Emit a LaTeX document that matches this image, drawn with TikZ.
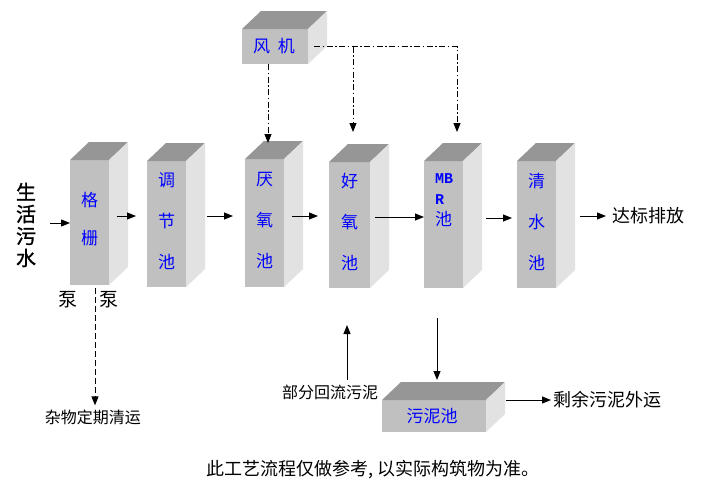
\documentclass[tikz,border=0pt]{standalone}
\usepackage{fontspec}
\setmainfont{Noto Sans CJK SC}
\newfontfamily\monofnt{Liberation Mono}
\newfontfamily\heavycjk[FakeBold=1.2]{Noto Sans CJK SC}
\usetikzlibrary{arrows.meta,calc}
\definecolor{frontc}{RGB}{192,192,192}
\definecolor{topc}{RGB}{150,150,150}
\definecolor{sidec}{RGB}{226,226,226}
\definecolor{txtblue}{RGB}{0,0,255}
\newcommand\cuboid[5]{%
  \node[frontface, minimum width=#4pt, minimum height=#5pt, anchor=north west] (#1) at (#2,#3) {};
  \fill[topc] (#1.north west) -- ++(19,-18) -- ++(#4,0) -- (#1.north east) -- cycle;
  \fill[sidec] (#1.north east) -- ++(19,-18) -- ++(0,#5) -- (#1.south east) -- cycle;
}
\tikzset{
  frontface/.style={fill=frontc, draw=none, inner sep=0pt, outer sep=0pt},
  boxtxt/.style={text=txtblue, inner sep=0pt, align=center, font=\fontsize{17}{41}\selectfont},
  lbl/.style={inner sep=0pt, font=\fontsize{16}{18}\selectfont},
  arr/.style={line width=1pt, -{Triangle[length=9pt,width=7pt]}},
  dashdotline/.style={line width=0.9pt, dash pattern=on 6pt off 2.5pt on 1.5pt off 2.5pt},
  dashline/.style={line width=0.9pt, dash pattern=on 6pt off 3pt},
}
\begin{document}
\begin{tikzpicture}[x=1pt,y=-1pt]
\useasboundingbox (0,0) rectangle (710,491);
\fill[white] (0,0) rectangle (710,491);
% boxes
\cuboid{fan}{242}{29}{66}{35}
\cuboid{b1}{70}{160}{39}{125}
\cuboid{b2}{147}{161}{39}{126}
\cuboid{b3}{245}{159}{39}{128}
\cuboid{b4}{329}{162}{41}{126}
\cuboid{b5}{424}{161}{39}{127}
\cuboid{b6}{517}{161}{39}{127}
\cuboid{sludge}{382}{400}{104}{32}
% texts in boxes
\node[boxtxt, font=\fontsize{17}{38}\selectfont] (t1) at ([yshift=3pt]b1.center) {格\\栅};
\node[boxtxt] (t2) at ([yshift=3pt]b2.center) {调\\节\\池};
\node[boxtxt] (t3) at ([yshift=3pt]b3.center) {厌\\氧\\池};
\node[boxtxt] (t4) at ([yshift=3pt]b4.center) {好\\氧\\池};
\node[boxtxt] (t6) at ([yshift=3pt]b6.center) {清\\水\\池};
\node[boxtxt, anchor=west, font=\monofnt\bfseries\fontsize{15}{17}\selectfont] (m1) at (435,179) {MB};
\node[boxtxt, anchor=west, font=\monofnt\bfseries\fontsize{15}{17}\selectfont] (m2) at (435,200) {R};
\node[boxtxt, anchor=west] (m3) at (435,219) {池};
\node[boxtxt] (tf) at ([xshift=-1pt]fan.center) {风\hspace{8pt}机};
\node[boxtxt] (ts) at ([xshift=-2pt]sludge.center) {污泥池};
% outside labels
\node[lbl, font=\heavycjk\fontsize{20}{22}\selectfont, align=center] (shws) at (26,225) {生\\活\\污\\水};
\node[lbl, font=\fontsize{19}{21}\selectfont] (p1) at (67.5,300) {泵};
\node[lbl, font=\fontsize{19}{21}\selectfont] (p2) at (109,300) {泵};
\node[lbl, font=\fontsize{18}{20}\selectfont, anchor=west] (dbpf) at (612,216) {达标排放};
\node[lbl, anchor=west] (bfhl) at (282,392) {部分回流污泥};
\node[lbl, font=\fontsize{18}{20}\selectfont, anchor=west] (sywy) at (553,400) {剩余污泥外运};
\node[lbl] (zwqy) at (93,417) {杂物定期清运};
\node[lbl, font=\fontsize{18}{20}\selectfont] (note) at (373,470) {此工艺流程仅做参考, 以实际构筑物为准。};
% main flow
\coordinate (inlet) at (50,223);
\draw[arr] (inlet) -- (inlet -| b1.west);
\draw[arr] ($(b1.east|-0,216)+(8,0)$) -- ($(b2.west|-0,216)+(-11,0)$);
\draw[arr] ($(b2.east|-0,216)+(21,0)$) -- ($(b3.west|-0,216)+(-12,0)$);
\draw[arr] ($(b3.east|-0,216)+(8,0)$) -- ($(b4.west|-0,216)+(-11,0)$);
\draw[arr] ($(b4.east|-0,217)+(5,0)$) -- (b5.west|-0,217);
\draw[arr] ($(b5.east|-0,218)+(23,0)$) -- ($(b6.west|-0,218)+(-5,0)$);
\draw[arr] ($(b6.east|-0,216)+(24,0)$) -- ($(dbpf.west)+(-6,0)$);
% air from fan
\coordinate (fanR) at ($(fan.east)+(6,0)$);
\coordinate (air4) at ($(b4.north)+(3.5,-30)$);
\coordinate (air5) at ($(b5.north)+(13.5,-29)$);
\draw[dashdotline, arr] ($(fan.south)+(-7,0)$) -- ($(b3.north)+(3.5,-16)$);
\draw[dashdotline, arr] (fanR) -| (air5);
\draw[dashdotline, arr] (fanR -| air4) -- (air4);
% screenings
\draw[dashline, arr] ($(b1.south)+(5.5,3)$) -- ($(zwqy.north)+(2,-4)$);
% sludge
\coordinate (ret) at (347,325);
\draw[arr] ($(bfhl.north -| ret)+(0,-4)$) -- (ret);
\draw[arr] ($(b5.south)+(-6.5,30)$) -- ($(sludge.north)+(3,-20)$);
\draw[arr] ($(sludge.east)+(20,-16)$) -- ($(sywy.west)+(-2,0)$);
\end{tikzpicture}
\end{document}
